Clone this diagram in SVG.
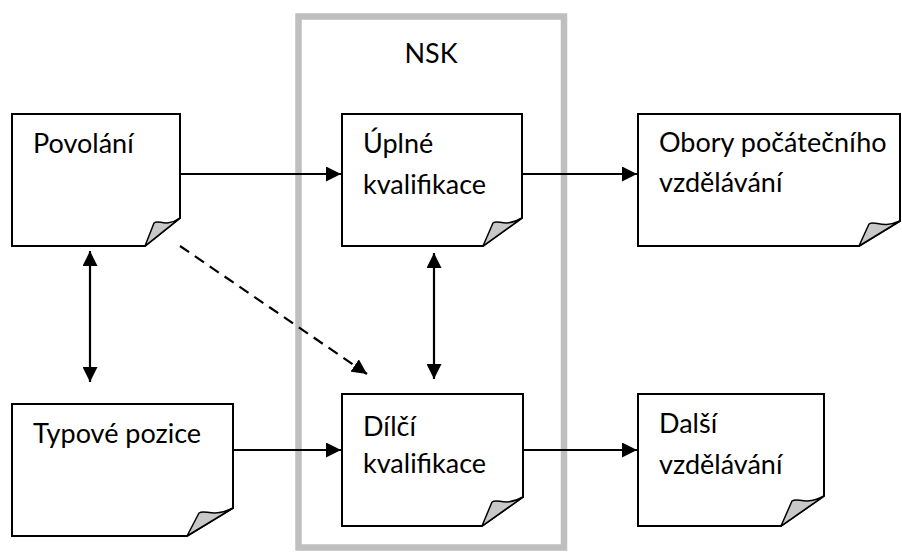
<svg xmlns="http://www.w3.org/2000/svg" width="902" height="553" viewBox="0 0 902 553">
<style>
.page{fill:#fff;stroke:#000;stroke-width:2;stroke-linejoin:miter}
.flap{fill:#c8c8c8;stroke:#000;stroke-width:1.5;stroke-linejoin:round}
.lbl{font-family:Lato,"Open Sans",sans-serif;font-size:27px;fill:#000}
.con{stroke:#000;stroke-width:2.2;fill:none}
</style>
<defs>
<marker id="ah" viewBox="0 0 15 15" refX="15" refY="7.5" markerWidth="15" markerHeight="15" markerUnits="userSpaceOnUse" orient="auto-start-reverse">
<path d="M0,0 L15,7.5 L0,15 z" fill="#000"/>
</marker>
</defs>
<rect id="nsk" x="298.5" y="16.5" width="265.5" height="531" fill="none" stroke="#bfbfbf" stroke-width="6.5"/>
<text class="lbl" x="431" y="63" text-anchor="middle">NSK</text>
<g id="povolani">
<path class="page" d="M12,114 H180 V218 L145,246 H12 Z"/>
<path class="flap" d="M145,246 L154,223 C159,219 165,228 180,218 Z"/>
<text class="lbl" x="33" y="153">Povolání</text>
</g>
<g id="typove">
<path class="page" d="M12,404 H233 V508 L187,536 H12 Z"/>
<path class="flap" d="M187,536 L199,513 C205,509 213,518 233,508 Z"/>
<text class="lbl" x="33" y="443">Typové pozice</text>
</g>
<g id="uplne">
<path class="page" d="M342,114 H522 V218 L483,246 H342 Z"/>
<path class="flap" d="M483,246 L493,223 C498,219 505,228 522,218 Z"/>
<text class="lbl" x="363" y="153">Úplné</text>
<text class="lbl" x="363" y="194">kvalifikace</text>
</g>
<g id="dilci">
<path class="page" d="M342,394 H523 V497 L482,526 H342 Z"/>
<path class="flap" d="M482,526 L492,502 C498,498 505,507 523,497 Z"/>
<text class="lbl" x="363" y="436">Dílčí</text>
<text class="lbl" x="363" y="473">kvalifikace</text>
</g>
<g id="obory">
<path class="page" d="M638,114 H900 V221 L859,246 H638 Z"/>
<path class="flap" d="M859,246 L869,224 C875,220 882,229 900,221 Z"/>
<text class="lbl" x="659" y="152">Obory počátečního</text>
<text class="lbl" x="659" y="192">vzdělávání</text>
</g>
<g id="dalsi">
<path class="page" d="M638,394 H824 V496 L781,526 H638 Z"/>
<path class="flap" d="M781,526 L792,501 C798,497 805,506 824,496 Z"/>
<text class="lbl" x="659" y="433">Další</text>
<text class="lbl" x="659" y="474">vzdělávání</text>
</g>
<g id="connectors">
<line class="con" x1="181" y1="174" x2="341" y2="174" marker-end="url(#ah)"/>
<line class="con" x1="523" y1="174" x2="637" y2="174" marker-end="url(#ah)"/>
<line class="con" x1="234" y1="450" x2="341" y2="450" marker-end="url(#ah)"/>
<line class="con" x1="524" y1="450" x2="637" y2="450" marker-end="url(#ah)"/>
<line class="con" x1="90" y1="251" x2="90" y2="382" marker-start="url(#ah)" marker-end="url(#ah)"/>
<line class="con" x1="434" y1="253" x2="434" y2="379" marker-start="url(#ah)" marker-end="url(#ah)"/>
<line class="con" x1="180" y1="246" x2="367" y2="374" stroke-dasharray="11,7" marker-end="url(#ah)"/>
</g>
</svg>
